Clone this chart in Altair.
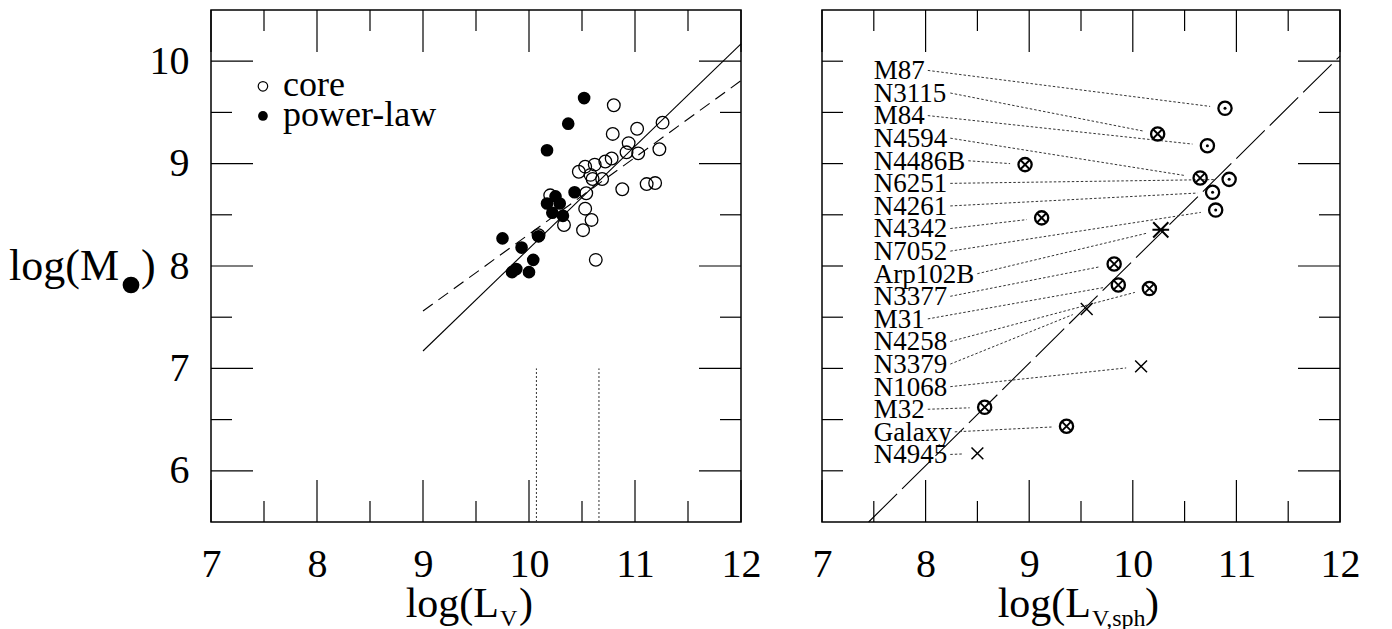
import math
import altair as alt
import pandas as pd

FONT = "Liberation Serif"

# ---------------- data: left panel ----------------
core_logL = [10.80, 11.26, 11.02, 10.79, 10.94, 11.23, 10.92, 11.03, 10.78, 10.72,
             10.62, 10.53, 10.47, 10.58, 10.69, 10.60, 10.88, 11.11, 11.19, 10.54,
             10.53, 10.59, 10.33, 10.51, 10.09, 10.63, 10.20]
core_logM = [9.57, 9.40, 9.34, 9.29, 9.20, 9.14, 9.11, 9.10, 9.05, 9.02,
             8.99, 8.97, 8.92, 8.89, 8.85, 8.85, 8.75, 8.80, 8.81, 8.71,
             8.56, 8.45, 8.40, 8.35, 8.30, 8.06, 8.69]
pl_logL = [10.52, 10.37, 10.17, 10.43, 10.25, 10.17, 10.29, 10.22, 10.32, 9.75,
           10.09, 9.93, 10.04, 9.88, 9.84, 10.00]
pl_logM = [9.64, 9.39, 9.13, 8.72, 8.68, 8.61, 8.61, 8.52, 8.49, 8.27,
           8.29, 8.18, 8.06, 7.97, 7.94, 7.94]

fit_x = [9.0, 12.0]
fit_solid = [7.17, 10.17]
fit_dashed = [7.56, 9.81]
vline_x = [10.07, 10.66]
vline_y0 = 5.5
vline_y1 = 7.0

legend_x = 7.49
legend_y = [9.755, 9.465]
legend_labels = ["core", "power-law"]

# ---------------- data: right panel ----------------
names = ["M87", "N3115", "M84", "N4594", "N4486B", "N6251", "N4261", "N4342", "N7052",
         "Arp102B", "N3377", "M31", "N4258", "N3379", "N1068", "M32", "Galaxy", "N4945"]
kinds = ["dot", "otimes", "dot", "otimes", "otimes", "dot", "dot", "otimes", "dot",
         "star", "otimes", "otimes", "otimes", "x", "x", "otimes", "otimes", "x"]
sph_logL = [10.89, 10.24, 10.72, 10.65, 8.96, 10.93, 10.77, 9.12, 10.80,
            10.27, 9.82, 9.86, 10.16, 9.555, 10.08, 8.57, 9.36, 8.50]
sph_logM = [9.54, 9.29, 9.175, 8.86, 8.99, 8.846, 8.72, 8.47, 8.546,
            8.353, 8.02, 7.815, 7.78, 7.58, 7.02, 6.62, 6.435, 6.17]
rel_x = [7.45, 12.0]
rel_y = [5.5, 10.05]

x_major = [7, 8, 9, 10, 11, 12]
x_minor = [7.5, 8.5, 9.5, 10.5, 11.5]
y_major = [6, 7, 8, 9, 10]
y_minor = [6.5, 7.5, 8.5, 9.5]

# ---------------- layout ----------------
W_L, W_R, H = 530, 518, 512
TICK_MAJ, TICK_MIN = 42, 21
DUMMY = pd.DataFrame({"a": [0]})


def py(v):
    return (10.5 - v) / 5.0 * H


XS = alt.Scale(domain=[7, 12], nice=False, zero=False)
YS = alt.Scale(domain=[5.5, 10.5], nice=False, zero=False)
XAX = alt.Axis(values=x_major, title=None, labelPadding=22, labelFontSize=40,
               labelFont=FONT, labelColor="black", ticks=False, domain=False,
               grid=False, labelFlush=False, format="d")
YAX = alt.Axis(values=y_major, title=None, labelPadding=22, labelFontSize=40,
               labelFont=FONT, labelColor="black", ticks=False, domain=False,
               grid=False, labelFlush=False, format="d")


def tick_layers(W, yax, left_short=False):
    out = []
    for vals, L in ((x_major, TICK_MAJ), (x_minor, TICK_MIN)):
        d = pd.DataFrame({"v": vals})
        X = alt.X("v:Q", scale=XS, axis=XAX)
        out.append(alt.Chart(d).mark_rule(color="black", strokeWidth=1.2).encode(
            x=X, y=alt.value(H), y2=alt.value(H - L)))
        out.append(alt.Chart(d).mark_rule(color="black", strokeWidth=1.2).encode(
            x=X, y=alt.value(0), y2=alt.value(L)))
    for vals, L in ((y_major, TICK_MAJ), (y_minor, TICK_MIN)):
        d = pd.DataFrame({"v": vals})
        Y = alt.Y("v:Q", scale=YS, axis=yax)
        LL = TICK_MIN if left_short else L
        out.append(alt.Chart(d).mark_rule(color="black", strokeWidth=1.2).encode(
            y=Y, x=alt.value(0), x2=alt.value(LL)))
        out.append(alt.Chart(d).mark_rule(color="black", strokeWidth=1.2).encode(
            y=Y, x=alt.value(W), x2=alt.value(W - L)))
    return out


def txt(s, x, y, size, align="left"):
    return alt.Chart(DUMMY).mark_text(text=s, font=FONT, fontSize=size, color="black",
                                      align=align, baseline="alphabetic").encode(
        x=alt.value(x), y=alt.value(y))


# ---------------- left panel ----------------
L = tick_layers(W_L, YAX)

vdf = pd.DataFrame({"x": vline_x, "y0": [vline_y0] * 2, "y1": [vline_y1] * 2})
L.append(alt.Chart(vdf).mark_rule(color="#333", strokeWidth=1, strokeDash=[2, 2]).encode(
    x=alt.X("x:Q", scale=XS, axis=XAX), y=alt.Y("y0:Q", scale=YS, axis=YAX), y2="y1:Q"))

fdf = pd.DataFrame({"x": fit_x, "s": fit_solid, "d": fit_dashed})
L.append(alt.Chart(fdf).mark_line(color="black", strokeWidth=1.1).encode(
    x=alt.X("x:Q", scale=XS, axis=XAX), y=alt.Y("s:Q", scale=YS, axis=YAX)))
L.append(alt.Chart(fdf).mark_line(color="black", strokeWidth=1.1, strokeDash=[12, 7]).encode(
    x=alt.X("x:Q", scale=XS, axis=XAX), y=alt.Y("d:Q", scale=YS, axis=YAX)))

cdf = pd.DataFrame({"x": core_logL, "y": core_logM})
pdf = pd.DataFrame({"x": pl_logL, "y": pl_logM})
L.append(alt.Chart(cdf).mark_point(shape="circle", filled=False, color="black",
                                   strokeWidth=1.3, size=160, opacity=1).encode(
    x=alt.X("x:Q", scale=XS, axis=XAX), y=alt.Y("y:Q", scale=YS, axis=YAX)))
L.append(alt.Chart(pdf).mark_point(shape="circle", filled=True, color="black",
                                   size=160, opacity=1).encode(
    x=alt.X("x:Q", scale=XS, axis=XAX), y=alt.Y("y:Q", scale=YS, axis=YAX)))

ldf = pd.DataFrame({"x": [legend_x] * 2, "y": legend_y, "t": legend_labels,
                    "tx": [legend_x + 0.19] * 2})
L.append(alt.Chart(ldf.iloc[:1]).mark_point(shape="circle", filled=False, color="black",
                                            strokeWidth=1.2, size=90, opacity=1).encode(
    x=alt.X("x:Q", scale=XS, axis=XAX), y=alt.Y("y:Q", scale=YS, axis=YAX)))
L.append(alt.Chart(ldf.iloc[1:]).mark_point(shape="circle", filled=True, color="black",
                                            size=95, opacity=1).encode(
    x=alt.X("x:Q", scale=XS, axis=XAX), y=alt.Y("y:Q", scale=YS, axis=YAX)))
L.append(alt.Chart(ldf).mark_text(font=FONT, fontSize=36, color="black", align="left",
                                  baseline="alphabetic", dy=10).encode(
    x=alt.X("tx:Q", scale=XS, axis=XAX), y=alt.Y("y:Q", scale=YS, axis=YAX), text="t:N"))

# axis titles (composed pieces for subscripts)
yb = py(8) + 14
L.append(txt("log(M", -92, yb, 44, "right"))
L.append(alt.Chart(DUMMY).mark_point(shape="circle", filled=True, color="black",
                                     size=280, opacity=1).encode(
    x=alt.value(-80), y=alt.value(py(8) + 19)))
L.append(txt(")", -70, yb, 44))
ax = W_L / 2 + 23
L.append(txt("log(L", ax, H + 95, 42, "right"))
L.append(txt("V", ax + 1, H + 104, 24))
L.append(txt(")", ax + 20, H + 95, 42))

left = alt.layer(*L).properties(width=W_L, height=H)

# ---------------- right panel ----------------
R = tick_layers(W_R, None, left_short=True)

rdf = pd.DataFrame({"x": rel_x, "y": rel_y})
R.append(alt.Chart(rdf).mark_line(color="black", strokeWidth=1.1, strokeDash=[40, 7]).encode(
    x=alt.X("x:Q", scale=XS, axis=XAX), y=alt.Y("y:Q", scale=YS, axis=None)))

CW = {"M": .889, "N": .722, "B": .667, "A": .722, "G": .722, "r": .333, "p": .5,
      "a": .444, "l": .278, "x": .5, "y": .5}


def tw(s, fs):
    return sum(CW.get(c, .5) for c in s) * fs


LAB_FS = 27
PXX = W_R / 5.0
PXY = H / 5.0
lab_x = 7.5
lab_y = [9.91 - i * 0.2206 for i in range(len(names))]
rows = []
for i, n in enumerate(names):
    x0 = lab_x + (tw(n, LAB_FS) + 3) / PXX
    y0 = lab_y[i]
    mx, my = sph_logL[i], sph_logM[i]
    dxp = (mx - x0) * PXX
    dyp = (my - y0) * PXY
    dist = math.hypot(dxp, dyp)
    gap = 15
    rows.append({"x0": x0, "y0": y0,
                 "x1": mx - dxp / dist * gap / PXX,
                 "y1": my - dyp / dist * gap / PXY})
lead = pd.DataFrame(rows)
R.append(alt.Chart(lead).mark_rule(color="#333", strokeWidth=1, strokeDash=[2.5, 2]).encode(
    x=alt.X("x0:Q", scale=XS, axis=XAX), y=alt.Y("y0:Q", scale=YS, axis=None),
    x2="x1:Q", y2="y1:Q"))

labdf = pd.DataFrame({"x": [lab_x] * len(names), "y": lab_y, "t": names})
R.append(alt.Chart(labdf).mark_text(font=FONT, fontSize=LAB_FS, color="black", align="left",
                                    baseline="alphabetic", dy=8.9).encode(
    x=alt.X("x:Q", scale=XS, axis=XAX), y=alt.Y("y:Q", scale=YS, axis=None), text="t:N"))

mdf = pd.DataFrame({"x": sph_logL, "y": sph_logM, "k": kinds})
ring = mdf[mdf.k.isin(["dot", "otimes"])]
dots = mdf[mdf.k == "dot"]
otim = mdf[mdf.k == "otimes"]
crs = mdf[mdf.k == "x"]
star = mdf[mdf.k == "star"]


def enc(c):
    return c.encode(x=alt.X("x:Q", scale=XS, axis=XAX), y=alt.Y("y:Q", scale=YS, axis=None))


R.append(enc(alt.Chart(ring).mark_point(shape="circle", filled=False, color="black",
                                        strokeWidth=2.3, size=175, opacity=1)))
R.append(enc(alt.Chart(dots).mark_point(shape="circle", filled=True, color="black",
                                        size=9, opacity=1)))
R.append(enc(alt.Chart(otim).mark_point(shape="M-0.7,-0.7L0.7,0.7M-0.7,0.7L0.7,-0.7",
                                        filled=False, color="black", strokeWidth=1.9,
                                        size=175, opacity=1)))
R.append(enc(alt.Chart(crs).mark_point(shape="M-1,-1L1,1M-1,1L1,-1", filled=False,
                                       color="black", strokeWidth=1.5, size=140, opacity=1)))
R.append(enc(alt.Chart(star).mark_point(shape="M-1,-1L1,1M-1,1L1,-1M-1.1,0L1.1,0",
                                        filled=False, color="black", strokeWidth=2,
                                        size=230, opacity=1)))

axr = W_R / 2 + 10
R.append(txt("log(L", axr, H + 95, 42, "right"))
R.append(txt("V,sph", axr + 1, H + 104, 24))
R.append(txt(")", axr + 54, H + 95, 42))

right = alt.layer(*R).properties(width=W_R, height=H)

chart = alt.hconcat(left, right, spacing=81, bounds="flush", padding=0).configure_view(
    stroke="black", strokeWidth=1.5)

chart.save("out.html", embed_options={"renderer": "svg", "actions": False})
